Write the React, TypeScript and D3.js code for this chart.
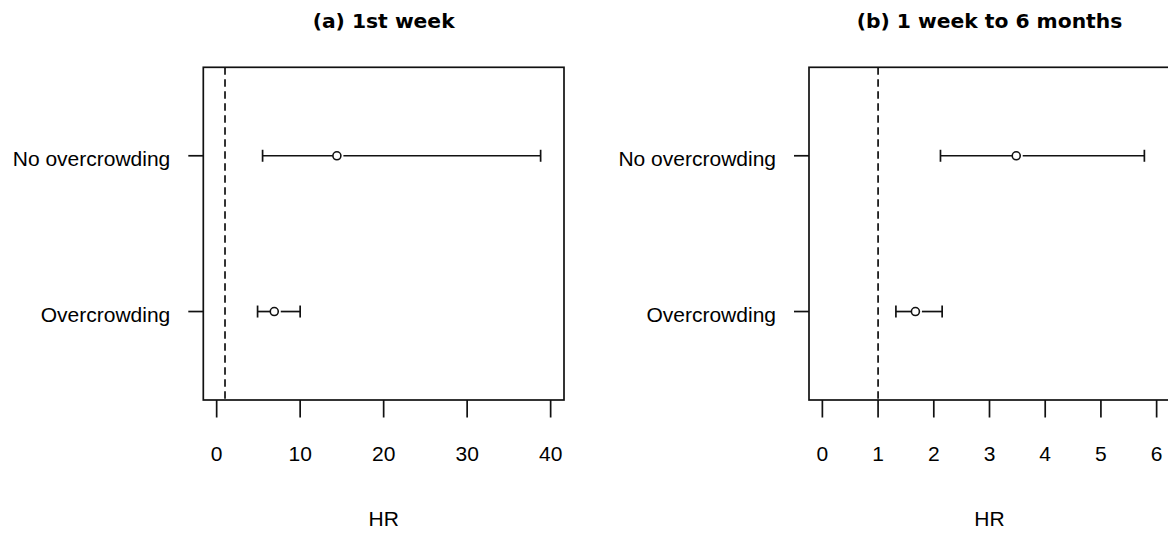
import React from "react";
import * as d3 from "d3";

const categories = ["No overcrowding", "Overcrowding"];

const week1Est = [14.4, 6.9];
const week1Lower = [5.5, 4.9];
const week1Upper = [38.8, 10.0];
const week1Ticks = [0, 10, 20, 30, 40];

const month6Est = [3.48, 1.67];
const month6Lower = [2.12, 1.32];
const month6Upper = [5.78, 2.15];
const month6Ticks = [0, 1, 2, 3, 4, 5, 6];

const titles = ["(a) 1st week", "(b) 1 week to 6 months"];
const xLabel = "HR";
const refLine = 1;

const W = 1168;
const H = 534;

type PanelProps = {
  left: number;
  right: number;
  xmax: number;
  est: number[];
  lo: number[];
  hi: number[];
  ticks: number[];
  title: string;
};

const top = 67.3;
const bottom = 400;
const ink = "#111";
const labelFont = "'Liberation Sans', Arial, sans-serif";
const sw = 1.7;

function Panel({ left, right, xmax, est, lo, hi, ticks, title }: PanelProps) {
  const pad = 0.04 * xmax;
  const x = d3.scaleLinear().domain([-pad, xmax + pad]).range([left, right]);
  const y = d3.scalePoint<string>().domain(categories).range([top, bottom]).padding(0.568);
  const cx = (left + right) / 2;
  const r = 4;
  return (
    <g>
      <text x={cx} y={28} textAnchor="middle" fontFamily="'DejaVu Sans', Verdana, sans-serif" fontWeight="bold" fontSize={20.3} fill="#000">
        {title}
      </text>
      <line x1={x(refLine)} x2={x(refLine)} y1={top} y2={bottom} stroke={ink} strokeWidth={sw} strokeDasharray="7.5,4.5" />
      {categories.map((c, i) => {
        const yy = y(c) as number;
        return (
          <g key={c}>
            <line x1={left - 15} x2={left} y1={yy} y2={yy} stroke={ink} strokeWidth={sw} />
            <text x={left - 33} y={yy + 10.5} textAnchor="end" fontFamily={labelFont} fontSize={21} fill="#000">
              {c}
            </text>
            <line x1={x(lo[i])} x2={x(est[i]) - r} y1={yy} y2={yy} stroke={ink} strokeWidth={sw} />
            <line x1={x(est[i]) + r + 2.5} x2={x(hi[i])} y1={yy} y2={yy} stroke={ink} strokeWidth={sw} />
            <line x1={x(lo[i])} x2={x(lo[i])} y1={yy - 6} y2={yy + 6} stroke={ink} strokeWidth={sw} />
            <line x1={x(hi[i])} x2={x(hi[i])} y1={yy - 6} y2={yy + 6} stroke={ink} strokeWidth={sw} />
            <circle cx={x(est[i])} cy={yy} r={r} fill="white" stroke={ink} strokeWidth={1.6} />
          </g>
        );
      })}
      {ticks.map((t) => (
        <g key={t}>
          <line x1={x(t)} x2={x(t)} y1={bottom} y2={bottom + 17.5} stroke={ink} strokeWidth={sw} />
          <text x={x(t)} y={461} textAnchor="middle" fontFamily={labelFont} fontSize={21} fill="#000">
            {t}
          </text>
        </g>
      ))}
      <text x={x((0 + xmax) / 2)} y={525.5} textAnchor="middle" fontFamily={labelFont} fontSize={21} fill="#000">
        {xLabel}
      </text>
      <rect x={left} y={top} width={right - left} height={bottom - top} fill="none" stroke={ink} strokeWidth={sw} />
    </g>
  );
}

export default function App() {
  return (
    <svg width={W} height={H} style={{ position: "absolute", left: 0, top: 0, background: "white" }}>
      <rect width={W} height={H} fill="white" />
      <Panel left={203.3} right={564} xmax={40} est={week1Est} lo={week1Lower} hi={week1Upper} ticks={week1Ticks} title={titles[0]} />
      <Panel left={809} right={1170} xmax={6} est={month6Est} lo={month6Lower} hi={month6Upper} ticks={month6Ticks} title={titles[1]} />
    </svg>
  );
}
